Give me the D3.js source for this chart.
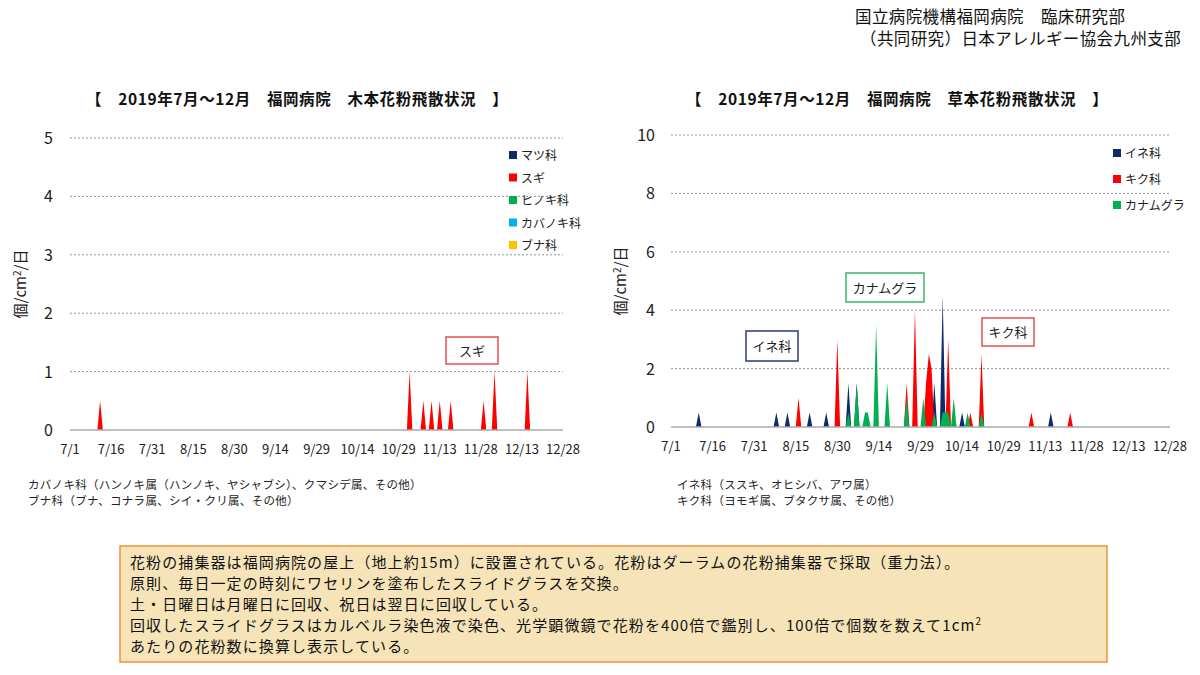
<!DOCTYPE html>
<html><head><meta charset="utf-8">
<script src="https://cdn.jsdelivr.net/npm/d3@7"></script>
<style>body{margin:0;background:#fff;font-family:"Noto Sans CJK JP","Noto Sans",sans-serif}</style>
</head><body><svg id="c" width="1200" height="675"></svg>
<script>
// day index from 7/1 (0) to 12/28 (180)
const tickLabels = ["7/1","7/16","7/31","8/15","8/30","9/14","9/29","10/14","10/29","11/13","11/28","12/13","12/28"];
const woodyLegend = ["マツ科","スギ","ヒノキ科","カバノキ科","ブナ科"];
const woodyColors = ["#0d2a6b","#ff0000","#00b050","#00b0f0","#ffc000"];
// スギ nonzero days [day, value]
const sugi = [[11,0.5],[124,1],[129,0.5],[132,0.5],[135,0.5],[139,0.5],[151,0.5],[155,1],[167,1]];
const herbLegend = ["イネ科","キク科","カナムグラ"];
const herbColors = ["#0d2a6b","#ff0000","#00b050"];
const ine = [[10,0.5],[38,0.5],[42,0.5],[50,0.5],[56,0.5],[64,1.5],[67,1.5],[95,1.5],[98,4.5],[105,0.5],[137,0.5]];
const kiku = [[46,1],[60,3],[85,1.5],[88,4],[92,1.5],[93,2.5],[94,2],[100,3],[108,0.5],[112,2.5],[130,0.5],[144,0.5]];
const kanamugura = [[64,0.5],[67,1.5],[70,0.5],[71,0.5],[74,3.5],[78,1.5],[85,1],[91,1],[95,0.5],[98,0.5],[99,0.5],[100,0.5],[102,1],[107,0.5],[112,0.5]];
const headerLines = ["国立病院機構福岡病院　臨床研究部","（共同研究）日本アレルギー協会九州支部"];
const boxLines = ["花粉の捕集器は福岡病院の屋上（地上約15m）に設置されている。花粉はダーラムの花粉捕集器で採取（重力法）。",
 "原則、毎日一定の時刻にワセリンを塗布したスライドグラスを交換。",
 "土・日曜日は月曜日に回収、祝日は翌日に回収している。",
 "回収したスライドグラスはカルベルラ染色液で染色、光学顕微鏡で花粉を400倍で鑑別し、100倍で個数を数えて1cm",
 "あたりの花粉数に換算し表示している。"];

const svg = d3.select("#c");
function daily(sparse){const a=d3.range(181).map(d=>0);sparse.forEach(([d,v])=>a[d]=v);return a;}

function chart(o){
  const x=d3.scaleLinear().domain([0,180]).range([o.x0,o.x1]);
  const y=d3.scaleLinear().domain([0,o.ymax]).range([o.y0,o.y1]);
  const g=svg.append("g");
  o.yticks.forEach(t=>{
    if(t>0) g.append("line").attr("x1",o.x0).attr("x2",o.x1).attr("y1",y(t)).attr("y2",y(t)).attr("stroke","#777").attr("stroke-dasharray","2,2").attr("stroke-width",0.8);
    g.append("text").attr("x",o.ylx).attr("y",y(t)+6).attr("text-anchor","end").attr("font-size",16).attr("fill","#222").text(t);
  });
  tickLabels.forEach((l,i)=>g.append("text").attr("x",x(i*15)).attr("y",o.y0+24).attr("text-anchor","middle").attr("font-size",13).attr("fill","#222").text(l));
  const area=d3.area().x((d,i)=>x(i)).y0(y(0)).y1(d=>y(d));
  o.series.forEach((s,k)=>g.append("path").attr("d",area(daily(s))).attr("fill",o.colors[k]));
  g.append("line").attr("x1",o.x0).attr("x2",o.x1).attr("y1",y(0)).attr("y2",y(0)).attr("stroke","#aaa").attr("stroke-width",1.5);
  g.append("text").attr("transform",`translate(${o.ytx},${(o.y0+o.y1)/2}) rotate(-90)`).attr("text-anchor","middle").attr("font-size",15).attr("fill","#222")
   .html('個/cm<tspan dy="-5" font-size="10">2</tspan><tspan dy="5">/日</tspan>');
  g.append("text").attr("x",o.tx).attr("y",105).attr("font-size",15.5).attr("font-weight","bold").attr("fill","#111").attr("xml:space","preserve").attr("letter-spacing",0.6).text(o.title);
  o.legend.forEach((l,i)=>{
    g.append("rect").attr("x",o.lx).attr("y",o.ly+i*o.ldy-4).attr("width",8).attr("height",8).attr("fill",o.lcolors[i]);
    g.append("text").attr("x",o.lx+12).attr("y",o.ly+i*o.ldy+5).attr("font-size",12).attr("fill","#222").text(l);
  });
  o.boxes.forEach(b=>{
    g.append("rect").attr("x",b[0]).attr("y",b[1]).attr("width",b[2]).attr("height",b[3]).attr("fill","#fff").attr("stroke",b[5]).attr("stroke-width",1.5);
    g.append("text").attr("x",b[0]+b[2]/2).attr("y",b[1]+b[3]/2+5).attr("text-anchor","middle").attr("font-size",13).attr("fill","#222").text(b[4]);
  });
  o.notes.forEach((n,i)=>g.append("text").attr("x",o.nx).attr("y",489+i*16).attr("font-size",11.5).attr("letter-spacing",0.3).attr("fill","#222").text(n));
}
chart({x0:70,x1:563,y0:430,y1:138,ymax:5,yticks:[0,1,2,3,4,5],ylx:53,ytx:26,series:[sugi],colors:["#ff0000"],
  title:"【　2019年7月～12月　福岡病院　木本花粉飛散状況　】",tx:86,legend:woodyLegend,lcolors:woodyColors,lx:509,ly:155,ldy:22.5,
  boxes:[[446,337,52,27,"スギ","#e85050"]],nx:28,notes:["カバノキ科（ハンノキ属（ハンノキ、ヤシャブシ）、クマシデ属、その他）","ブナ科（ブナ、コナラ属、シイ・クリ属、その他）"]});
chart({x0:671,x1:1170,y0:427,y1:135,ymax:10,yticks:[0,2,4,6,8,10],ylx:655,ytx:626,series:[ine,kiku,kanamugura],colors:herbColors,
  title:"【　2019年7月～12月　福岡病院　草本花粉飛散状況　】",tx:686,legend:herbLegend,lcolors:herbColors,lx:1113,ly:153,ldy:26,
  boxes:[[746,331,52,30,"イネ科","#2a3a7a"],[846,273,78,29,"カナムグラ","#3cb86a"],[982,318,52,28,"キク科","#e85050"]],nx:677,
  notes:["イネ科（ススキ、オヒシバ、アワ属）","キク科（ヨモギ属、ブタクサ属、その他）"]});

headerLines.forEach((t,i)=>svg.append("text").attr("x",i?860:855).attr("y",23+i*22).attr("font-size",16.5).attr("letter-spacing",0.4).attr("fill","#111").text(t));
svg.append("rect").attr("x",120).attr("y",546).attr("width",987).attr("height",116).attr("fill","#f6e4b8").attr("stroke","#e8963c").attr("stroke-width",1.5);
boxLines.forEach((t,i)=>{
  const tx=svg.append("text").attr("x",130).attr("y",568+i*21).attr("font-size",15).attr("letter-spacing",1.1).attr("fill","#111").text(t);
  if(i===3) tx.append("tspan").attr("dy",-6).attr("font-size",10).text("2");
});
</script></body></html>
